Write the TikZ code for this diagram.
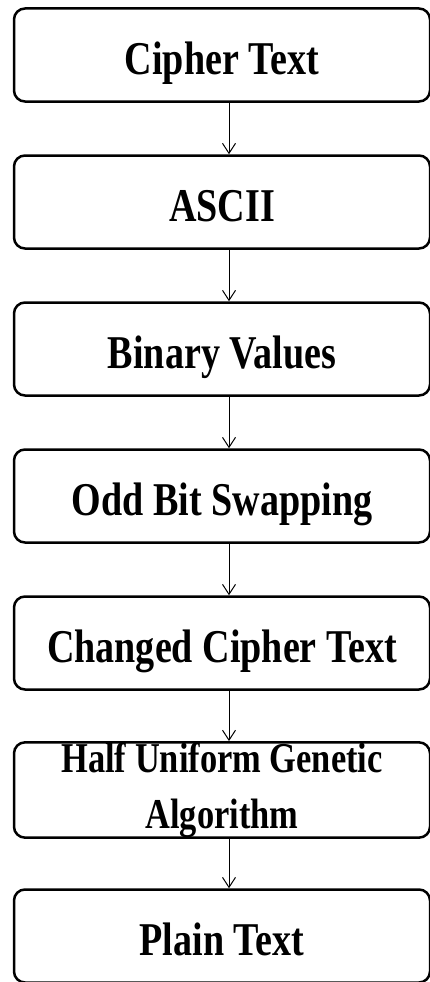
\documentclass[tikz,border=0pt]{standalone}
\usepackage{fontspec}
\usetikzlibrary{arrows.meta}

\newfontfamily\stagefont[FakeStretch=0.81]{Liberation Serif}

\begin{document}
\begin{tikzpicture}[x=1pt, y=1pt,
	stage/.style={draw, line width=2.5pt, rounded corners=11pt, minimum width=416pt, minimum height=93pt, inner sep=0pt, align=center, text height=40pt, text depth=1pt, font=\stagefont\bfseries\fontsize{47}{54}\selectfont},
	flow/.style={-{Straight Barb[length=10pt, width=13pt]}, line width=1pt}]

\useasboundingbox (0,0) rectangle (430,-982);

% one box per step, top to bottom
\foreach \n/\y/\t in {1/55/Cipher Text, 2/202/ASCII, 3/349/Binary Values, 4/496/Odd Bit Swapping, 5/643/Changed Cipher Text, 7/936/Plain Text}
	\node[stage] (s\n) at (222, -\y) {\t};

% two lines here, so no fixed text height
\node[stage, text height=, text depth=, font=\stagefont\bfseries\fontsize{42.5}{56}\selectfont] (s6) at (222, -790) {Half Uniform Genetic\\Algorithm};

% arrows sit a little right of the box centres
\foreach \a/\b in {1/2, 2/3, 3/4, 4/5, 5/6, 6/7}
	\draw[flow] ([xshift=7pt]s\a.south) -- ([xshift=7pt]s\b.north);

\end{tikzpicture}
\end{document}
